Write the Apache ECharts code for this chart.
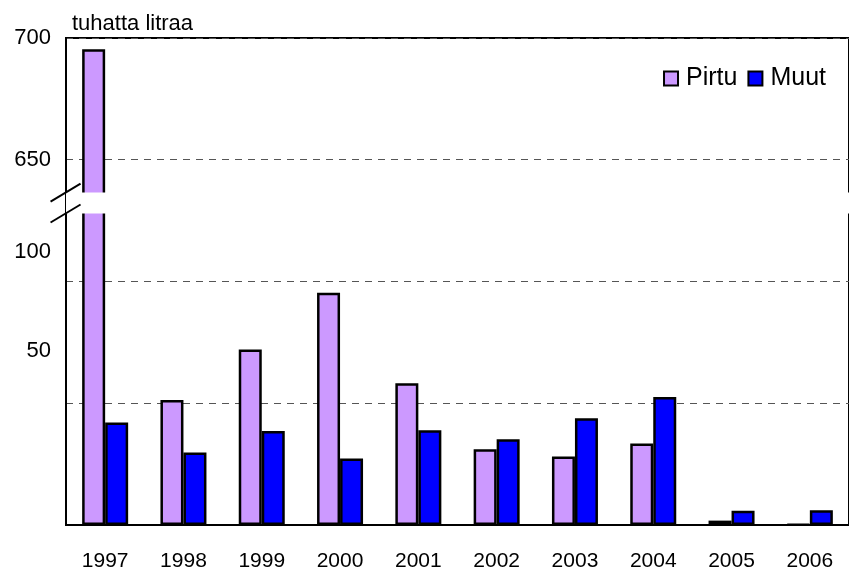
<!DOCTYPE html>
<html>
<head>
  <meta charset="UTF-8">
  <title>Pirtu ja muut</title>
  <script src="https://cdn.jsdelivr.net/npm/echarts@6/dist/echarts.min.js"></script>
  <style>
    html, body { margin: 0; padding: 0; background: #fff; }
  </style>
</head>
<body>
<div id="main" style="width: 849px;height:572px;"></div>
<script type="text/javascript">
  // vuodet ja sarjat (tuhatta litraa)
  var years = ['1997', '1998', '1999', '2000', '2001', '2002', '2003', '2004', '2005', '2006'];
  var pirtu = [695.4, 51.4, 72.1, 95.4, 58.2, 31.1, 28.1, 33.5, 1.8, 0.3];
  var muut = [42.1, 29.8, 38.6, 27.3, 38.9, 35.2, 43.9, 52.6, 5.9, 6.1];
  var gridTicks = [0, 50, 100, 650, 700];
  var upperTicks = [650, 700];
  var lowerTicks = [50, 100];
  var breakFrom = 128, breakTo = 636.5;

  var font = 'Liberation Sans, Arial, sans-serif';
  var myChart = echarts.init(document.getElementById('main'));

  var option = {
    animation: false,
    backgroundColor: '#fff',
    title: {
      text: 'tuhatta litraa',
      left: 67,
      top: 8,
      textStyle: { fontFamily: font, fontSize: 22, fontWeight: 'normal', color: '#000' }
    },
    legend: {
      right: 18,
      top: 61,
      icon: 'rect',
      itemWidth: 14,
      itemHeight: 14,
      itemGap: 10,
      textStyle: { fontFamily: font, fontSize: 25, color: '#000', padding: [0, 0, 0, 3] },
      data: ['Pirtu', 'Muut']
    },
    grid: {
      left: 66,
      right: -10,
      top: 38,
      bottom: 46,
      show: true,
      borderColor: '#000',
      borderWidth: 2
    },
    xAxis: {
      type: 'category',
      data: years,
      axisTick: { show: false },
      axisLine: { lineStyle: { color: '#000', width: 2 } },
      axisLabel: { margin: 26, fontFamily: font, fontSize: 21, color: '#000' }
    },
    yAxis: [{
      type: 'value',
      min: 0,
      max: 700,
      interval: 50,
      breaks: [{ start: breakFrom, end: breakTo, gap: '4.3%' }],
      breakArea: {
        show: true,
        itemStyle: { color: '#fff', borderColor: '#fff', borderWidth: 0, opacity: 1 },
        zigzagAmplitude: 0
      },
      axisLine: { show: true, lineStyle: { color: '#000', width: 2 } },
      axisTick: { show: false, customValues: gridTicks },
      axisLabel: {
        customValues: upperTicks,
        margin: 15,
        fontFamily: font,
        fontSize: 22,
        color: '#000'
      },
      splitLine: { lineStyle: { color: '#555', type: [7, 6], width: 1 } }
    }, {
      type: 'value',
      position: 'left',
      min: -37,
      max: 207,
      axisLine: { show: false },
      axisTick: { show: false },
      splitLine: { show: false },
      axisLabel: {
        customValues: lowerTicks,
        margin: 15,
        fontFamily: font,
        fontSize: 22,
        color: '#000'
      }
    }],
    series: [{
      name: 'Pirtu',
      type: 'bar',
      barWidth: 23,
      barGap: '0%',
      itemStyle: { color: '#CC99FF', borderColor: '#000', borderWidth: 2.5 },
      data: pirtu
    }, {
      name: 'Muut',
      type: 'bar',
      barWidth: 23,
      itemStyle: { color: '#0000FF', borderColor: '#000', borderWidth: 2.5 },
      data: muut
    }]
  };
  myChart.setOption(option);

  // katkomerkit akselille
  var ax = myChart.convertToPixel({ xAxisIndex: 0 }, 0) - 39.6;
  var yA = myChart.convertToPixel({ yAxisIndex: 0 }, breakTo);
  var yB = myChart.convertToPixel({ yAxisIndex: 0 }, breakFrom);
  function slash(y) {
    return {
      type: 'line',
      z: 200,
      shape: { x1: ax - 15, y1: y + 9, x2: ax + 15, y2: y - 9 },
      style: { stroke: '#000', lineWidth: 2 }
    };
  }
  myChart.setOption({ graphic: [slash(yA), slash(yB)] });
</script>
</body>
</html>
